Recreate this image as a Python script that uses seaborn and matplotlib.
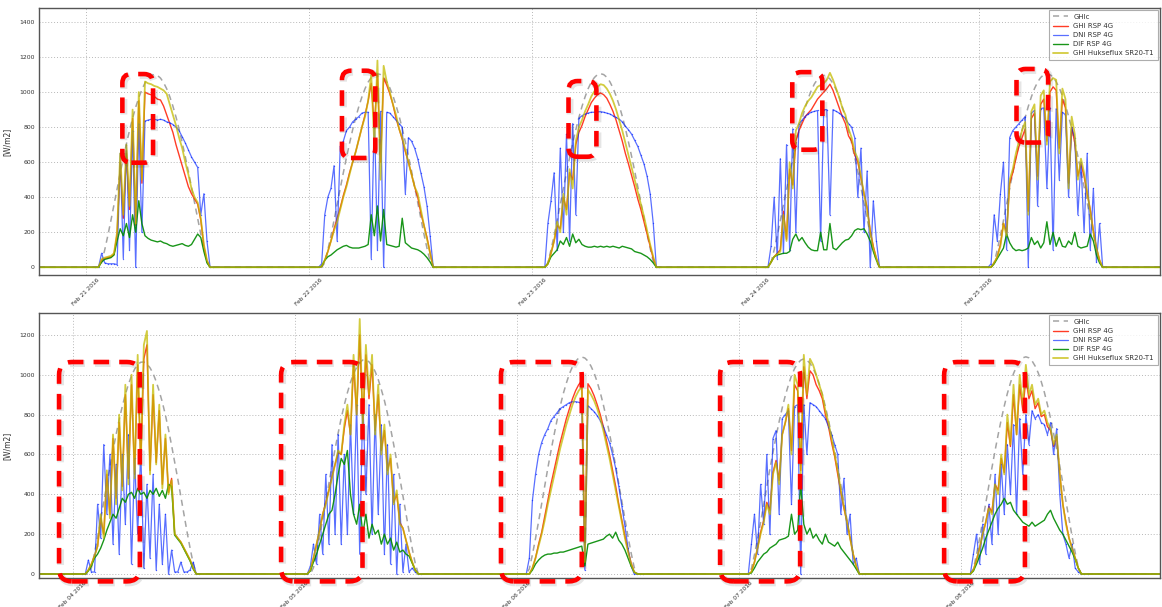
import matplotlib
matplotlib.use("Agg")
import matplotlib.pyplot as plt
import matplotlib.dates as mdates
from matplotlib.patches import FancyBboxPatch
from matplotlib.transforms import IdentityTransform
from matplotlib.lines import Line2D
import pandas as pd
import seaborn as sns

# ---------------- data ----------------
# sample times of each day (20-minute steps, UTC)
HOURS = ["01:00", "01:20", "01:40", "02:00", "02:20", "02:40", "03:00", "03:20", "03:40",
         "04:00", "04:20", "04:40", "05:00", "05:20", "05:40", "06:00", "06:20", "06:40",
         "07:00", "07:20", "07:40", "08:00", "08:20", "08:40", "09:00", "09:20", "09:40",
         "10:00", "10:20", "10:40", "11:00", "11:20", "11:40", "12:00", "12:20", "12:40",
         "13:00", "13:20", "13:40"]

SERIES = ["GHIc", "GHI RSP 4G", "DNI RSP 4G", "DIF RSP 4G", "GHI Hukseflux SR20-T1"]

# ----- top panel: 21-25 Feb 2016 -----
top_days = ["2016-02-21", "2016-02-22", "2016-02-23", "2016-02-24", "2016-02-25"]
top_span = ["2016-02-20 18:56", "2016-02-25 19:30"]

top_ghic = [
    [0, 0, 26, 99, 180, 267, 358, 448, 537, 623, 704, 781, 851, 914, 968, 1015, 1052, 1078, 1095, 1100, 1095, 1080, 1054, 1019, 974, 920, 858, 789, 712, 631, 547, 458, 367, 278, 189, 107, 33, 0, 0],
    [0, 0, 26, 100, 181, 268, 360, 450, 540, 626, 707, 785, 855, 918, 973, 1020, 1057, 1083, 1100, 1105, 1100, 1085, 1059, 1024, 979, 924, 862, 793, 715, 634, 550, 460, 369, 279, 190, 108, 33, 0, 0],
    [0, 0, 26, 100, 181, 268, 360, 450, 540, 626, 707, 785, 855, 918, 973, 1020, 1057, 1083, 1100, 1105, 1100, 1085, 1059, 1024, 979, 924, 862, 793, 715, 634, 550, 460, 369, 279, 190, 108, 33, 0, 0],
    [0, 0, 26, 99, 179, 266, 356, 446, 535, 620, 701, 777, 847, 910, 964, 1010, 1047, 1073, 1090, 1095, 1090, 1075, 1049, 1014, 970, 916, 854, 785, 709, 628, 545, 456, 365, 277, 188, 107, 33, 0, 0],
    [0, 0, 26, 100, 181, 268, 360, 450, 540, 626, 707, 785, 855, 918, 973, 1020, 1057, 1083, 1100, 1105, 1100, 1085, 1059, 1024, 979, 924, 862, 793, 715, 634, 550, 460, 369, 279, 190, 108, 33, 0, 0],
]
top_ghi_rsp = [
    [0, 0, 40, 50, 55, 60, 75, 190, 600, 280, 650, 330, 850, 240, 950, 480, 1000, 990, 985, 975, 960, 955, 920, 870, 820, 770, 700, 640, 580, 520, 460, 420, 390, 360, 270, 120, 35, 0, 0],
    [0, 5, 40, 90, 150, 220, 280, 340, 410, 470, 540, 600, 660, 730, 800, 870, 950, 1050, 800, 1100, 600, 1080, 1040, 990, 930, 850, 790, 730, 660, 600, 530, 460, 400, 310, 240, 170, 80, 0, 0],
    [0, 0, 20, 80, 150, 240, 220, 400, 330, 540, 500, 700, 770, 810, 860, 900, 940, 965, 985, 995, 985, 965, 930, 890, 840, 780, 720, 650, 590, 525, 460, 390, 330, 260, 190, 120, 50, 0, 0],
    [0, 0, 30, 60, 80, 100, 320, 160, 560, 470, 720, 780, 820, 860, 880, 900, 930, 960, 980, 1000, 1020, 1045, 1010, 960, 910, 860, 820, 750, 720, 640, 600, 510, 420, 340, 210, 120, 50, 0, 0],
    [0, 0, 25, 60, 130, 250, 200, 480, 540, 620, 690, 740, 790, 320, 850, 880, 520, 930, 960, 720, 1000, 1030, 1010, 680, 960, 910, 480, 800, 710, 520, 590, 520, 420, 330, 210, 110, 40, 0, 0],
]
top_dni = [
    [0, 0, 80, 25, 20, 20, 20, 15, 650, 50, 700, 100, 780, 0, 820, 200, 835, 840, 845, 845, 840, 845, 840, 830, 825, 815, 800, 780, 745, 710, 670, 630, 600, 570, 300, 420, 150, 0, 0],
    [0, 20, 300, 400, 450, 580, 150, 690, 720, 780, 800, 830, 845, 860, 880, 885, 885, 50, 880, 100, 890, 0, 885, 880, 860, 840, 820, 800, 420, 740, 720, 680, 620, 540, 460, 350, 180, 0, 0],
    [0, 0, 250, 380, 540, 100, 680, 200, 760, 150, 820, 300, 850, 865, 875, 880, 885, 885, 888, 888, 885, 880, 875, 865, 855, 845, 830, 805, 785, 760, 725, 690, 640, 590, 520, 420, 250, 0, 0],
    [0, 0, 120, 400, 50, 620, 80, 700, 100, 790, 200, 820, 840, 860, 875, 885, 890, 895, 150, 900, 900, 300, 900, 890, 880, 865, 850, 820, 800, 740, 400, 680, 200, 550, 0, 380, 150, 0, 0],
    [0, 20, 300, 150, 420, 600, 100, 740, 780, 800, 820, 840, 860, 0, 880, 895, 350, 905, 910, 450, 910, 100, 905, 500, 885, 870, 400, 800, 740, 300, 600, 200, 650, 100, 450, 30, 250, 0, 0],
]
top_dif = [
    [0, 0, 30, 45, 50, 55, 70, 150, 220, 180, 250, 170, 300, 200, 380, 250, 180, 165, 155, 150, 145, 150, 140, 135, 125, 120, 125, 130, 135, 125, 120, 130, 160, 190, 170, 90, 25, 0, 0],
    [0, 5, 40, 60, 70, 85, 100, 110, 120, 125, 115, 110, 110, 110, 115, 120, 130, 300, 180, 350, 150, 330, 130, 125, 120, 115, 120, 280, 140, 125, 110, 105, 100, 90, 75, 55, 30, 0, 0],
    [0, 0, 20, 60, 80, 100, 150, 130, 170, 120, 190, 140, 160, 130, 120, 115, 115, 120, 115, 120, 115, 120, 115, 120, 115, 110, 120, 115, 110, 105, 90, 85, 80, 70, 60, 45, 25, 0, 0],
    [0, 0, 30, 60, 70, 75, 80, 80, 90, 160, 190, 150, 170, 140, 115, 100, 95, 95, 200, 100, 100, 250, 110, 100, 120, 140, 155, 160, 180, 210, 220, 215, 220, 190, 150, 90, 40, 0, 0],
    [0, 0, 20, 50, 80, 110, 190, 140, 110, 95, 100, 95, 100, 110, 170, 130, 150, 110, 140, 260, 130, 200, 120, 170, 120, 115, 150, 130, 200, 120, 110, 115, 120, 190, 150, 70, 25, 0, 0],
]
top_huk = [
    [0, 0, 45, 55, 60, 65, 80, 200, 650, 300, 700, 350, 900, 250, 1000, 500, 1060, 1050, 1045, 1035, 1030, 1020, 1010, 990, 930, 870, 810, 740, 680, 600, 530, 450, 400, 370, 280, 130, 40, 0, 0],
    [0, 5, 40, 90, 150, 210, 260, 330, 400, 460, 530, 600, 660, 730, 800, 860, 950, 1100, 700, 1180, 500, 1150, 1060, 1000, 930, 870, 790, 740, 670, 600, 530, 460, 420, 330, 240, 160, 80, 0, 0],
    [0, 0, 20, 80, 150, 260, 200, 420, 300, 560, 450, 720, 800, 840, 890, 930, 975, 1005, 1030, 1045, 1040, 1020, 990, 950, 900, 840, 780, 710, 640, 570, 500, 430, 360, 290, 210, 130, 60, 0, 0],
    [0, 0, 30, 60, 75, 90, 300, 150, 600, 450, 780, 820, 880, 920, 950, 970, 1000, 1030, 1040, 1050, 1070, 1110, 1070, 1020, 970, 910, 870, 790, 740, 660, 620, 520, 420, 330, 200, 110, 50, 0, 0],
    [0, 0, 25, 60, 120, 250, 180, 500, 560, 650, 720, 780, 830, 300, 890, 930, 500, 980, 1010, 700, 1060, 1080, 1070, 650, 1020, 960, 450, 860, 760, 500, 620, 540, 430, 320, 200, 110, 40, 0, 0],
]

# ----- bottom panel: 04-08 Feb 2016 -----
bot_days = ["2016-02-04", "2016-02-05", "2016-02-06", "2016-02-07", "2016-02-08"]
bot_span = ["2016-02-03 20:20", "2016-02-08 21:30"]

bot_ghic = [
    [0, 0, 0, 32, 105, 186, 274, 362, 450, 538, 621, 700, 775, 841, 901, 952, 995, 1028, 1051, 1063, 1064, 1054, 1035, 1006, 966, 917, 862, 797, 724, 645, 562, 477, 389, 299, 212, 129, 53, 0, 0],
    [0, 0, 0, 32, 106, 188, 277, 366, 455, 543, 627, 707, 783, 849, 910, 962, 1005, 1038, 1062, 1074, 1075, 1065, 1045, 1016, 976, 926, 871, 805, 731, 651, 568, 482, 393, 302, 214, 130, 54, 0, 0],
    [0, 26, 98, 178, 264, 354, 444, 532, 617, 697, 773, 842, 905, 958, 1005, 1041, 1067, 1084, 1089, 1084, 1069, 1043, 1009, 964, 911, 849, 781, 705, 625, 542, 453, 363, 275, 187, 106, 33, 0, 0, 0],
    [0, 26, 97, 176, 261, 350, 440, 527, 611, 690, 765, 834, 896, 948, 995, 1031, 1056, 1073, 1080, 1073, 1058, 1033, 999, 954, 902, 840, 773, 698, 619, 537, 448, 359, 272, 185, 105, 33, 0, 0, 0],
    [0, 26, 98, 178, 265, 355, 445, 533, 618, 698, 774, 843, 906, 959, 1006, 1042, 1068, 1085, 1090, 1085, 1070, 1044, 1010, 965, 912, 850, 782, 706, 626, 543, 454, 364, 276, 188, 107, 33, 0, 0, 0],
]
bot_ghi_rsp = [
    [0, 0, 20, 50, 90, 140, 280, 200, 500, 300, 680, 380, 760, 440, 900, 480, 950, 500, 1050, 560, 1080, 1150, 520, 900, 560, 820, 450, 680, 410, 480, 200, 180, 160, 130, 100, 70, 30, 0, 0],
    [0, 0, 20, 80, 150, 220, 300, 360, 420, 490, 550, 610, 600, 730, 820, 700, 1050, 800, 1200, 750, 1100, 880, 1050, 720, 900, 620, 720, 520, 580, 360, 400, 260, 230, 170, 110, 60, 20, 0, 0],
    [0, 0, 30, 80, 150, 210, 290, 370, 450, 520, 590, 660, 720, 780, 830, 880, 920, 950, 970, 80, 955, 930, 895, 850, 800, 740, 670, 600, 520, 440, 350, 270, 190, 120, 55, 10, 0, 0, 0],
    [0, 10, 60, 130, 210, 270, 360, 320, 510, 570, 470, 700, 760, 830, 620, 950, 920, 520, 1040, 880, 1020, 1000, 950, 920, 880, 800, 740, 660, 590, 500, 410, 330, 260, 180, 100, 40, 0, 0, 0],
    [0, 20, 70, 130, 200, 260, 340, 310, 450, 420, 580, 510, 760, 640, 900, 700, 950, 820, 980, 880, 920, 830, 860, 790, 800, 740, 720, 640, 690, 500, 350, 260, 180, 130, 80, 30, 0, 0, 0],
]
bot_dni = [
    [0, 0, 70, 10, 10, 350, 180, 650, 300, 600, 150, 550, 100, 600, 250, 700, 50, 580, 200, 620, 30, 450, 80, 500, 20, 350, 50, 300, 0, 120, 10, 10, 60, 10, 10, 20, 60, 0, 0],
    [0, 0, 40, 150, 50, 300, 100, 500, 150, 650, 200, 700, 150, 600, 200, 750, 300, 850, 100, 880, 400, 850, 200, 800, 300, 750, 100, 650, 50, 500, 0, 350, 10, 150, 10, 30, 10, 0, 0],
    [0, 80, 370, 500, 600, 660, 700, 730, 770, 790, 810, 830, 840, 850, 860, 865, 865, 862, 855, 20, 845, 830, 815, 795, 770, 740, 700, 660, 600, 530, 440, 340, 240, 130, 40, 0, 0, 0, 0],
    [0, 150, 300, 100, 450, 250, 600, 200, 680, 720, 300, 780, 800, 820, 350, 840, 850, 0, 850, 600, 860, 850, 840, 820, 800, 780, 740, 700, 650, 600, 300, 480, 200, 300, 50, 80, 0, 0, 0],
    [0, 100, 200, 50, 250, 100, 350, 150, 500, 200, 550, 300, 650, 400, 750, 300, 780, 500, 800, 650, 820, 780, 800, 760, 750, 700, 760, 600, 730, 400, 200, 150, 80, 150, 30, 10, 0, 0, 0],
]
bot_dif = [
    [0, 0, 15, 40, 80, 100, 130, 170, 220, 260, 300, 280, 330, 380, 360, 400, 410, 380, 430, 400, 410, 380, 420, 400, 430, 390, 420, 380, 450, 440, 195, 175, 155, 125, 95, 65, 25, 0, 0],
    [0, 0, 15, 60, 100, 150, 200, 250, 300, 320, 400, 500, 580, 550, 620, 400, 300, 250, 350, 200, 300, 180, 250, 200, 220, 150, 200, 150, 180, 120, 160, 110, 120, 100, 90, 55, 20, 0, 0],
    [0, 0, 20, 50, 70, 85, 95, 100, 100, 105, 105, 110, 110, 115, 120, 125, 130, 135, 140, 40, 150, 155, 160, 165, 170, 175, 190, 200, 180, 210, 170, 150, 120, 80, 40, 10, 0, 0, 0],
    [0, 5, 30, 60, 80, 100, 110, 130, 140, 150, 170, 175, 180, 190, 300, 200, 220, 450, 250, 200, 230, 180, 200, 170, 150, 200, 160, 150, 140, 160, 130, 110, 90, 70, 50, 25, 0, 0, 0],
    [0, 15, 50, 90, 130, 180, 220, 260, 300, 330, 350, 380, 350, 360, 320, 300, 280, 260, 250, 240, 260, 240, 250, 260, 270, 300, 320, 280, 250, 220, 200, 170, 140, 110, 75, 30, 0, 0, 0],
]
bot_huk = [
    [0, 0, 20, 50, 90, 140, 300, 180, 520, 280, 700, 350, 800, 420, 950, 450, 1000, 480, 1100, 550, 1150, 1220, 500, 950, 550, 850, 430, 700, 400, 470, 200, 180, 160, 130, 100, 70, 30, 0, 0],
    [0, 0, 20, 80, 150, 220, 300, 350, 420, 480, 550, 620, 600, 750, 850, 700, 1100, 800, 1280, 750, 1150, 900, 1100, 700, 950, 600, 750, 500, 600, 350, 420, 250, 230, 170, 110, 60, 20, 0, 0],
    [0, 0, 30, 80, 140, 200, 270, 350, 420, 490, 560, 630, 690, 750, 800, 850, 890, 920, 940, 60, 925, 900, 870, 830, 780, 720, 650, 580, 500, 420, 340, 260, 180, 110, 50, 10, 0, 0, 0],
    [0, 10, 60, 130, 200, 260, 350, 300, 500, 560, 450, 700, 760, 850, 600, 1000, 950, 500, 1100, 900, 1080, 1050, 1000, 950, 900, 820, 760, 680, 600, 520, 420, 340, 260, 180, 100, 40, 0, 0, 0],
    [0, 20, 70, 130, 200, 260, 330, 300, 450, 400, 600, 500, 800, 650, 950, 700, 1000, 850, 1050, 900, 950, 850, 880, 800, 820, 760, 730, 650, 700, 500, 350, 250, 180, 130, 80, 30, 0, 0, 0],
]

# highlighted periods (red dashed boxes): start, end, low, high
top_boxes = [
    ["2016-02-21 03:54", "2016-02-21 07:12", 597, 1103],
    ["2016-02-22 03:31", "2016-02-22 07:06", 624, 1122],
    ["2016-02-23 03:53", "2016-02-23 06:53", 631, 1063],
    ["2016-02-24 03:57", "2016-02-24 07:11", 671, 1114],
    ["2016-02-25 04:04", "2016-02-25 07:28", 712, 1132],
]
bot_boxes = [
    ["2016-02-03 22:30", "2016-02-04 07:14", -37, 1064],
    ["2016-02-04 22:30", "2016-02-05 07:18", -37, 1064],
    ["2016-02-05 22:16", "2016-02-06 07:00", -37, 1064],
    ["2016-02-06 21:57", "2016-02-07 06:36", -37, 1064],
    ["2016-02-07 22:10", "2016-02-08 06:54", -37, 1064],
]

# ---------------- styling ----------------
STYLE = {
    "GHIc": dict(color="#9a9a9a", lw=1.1, ls=(0, (4, 3)), alpha=0.9),
    "GHI RSP 4G": dict(color="#ff1a00", lw=1.0, ls="-", alpha=0.85),
    "DNI RSP 4G": dict(color="#0022ff", lw=0.9, ls="-", alpha=0.65, marker=".", ms=2.0, mew=0),
    "DIF RSP 4G": dict(color="#008a00", lw=1.0, ls="-", alpha=0.9),
    "GHI Hukseflux SR20-T1": dict(color="#c4bb00", lw=1.3, ls="-", alpha=0.75),
}


def build_frame(days, span, data):
    rows = []
    for name, per_day in data.items():
        rows.append((pd.Timestamp(span[0]), name, 0.0))
        for day, vals in zip(days, per_day):
            for h, v in zip(HOURS, vals):
                rows.append((pd.Timestamp(f"{day} {h}"), name, float(v)))
        rows.append((pd.Timestamp(span[1]), name, 0.0))
    return pd.DataFrame(rows, columns=["time", "series", "value"])


top_df = build_frame(top_days, top_span, {
    "GHIc": top_ghic, "GHI RSP 4G": top_ghi_rsp, "DNI RSP 4G": top_dni,
    "DIF RSP 4G": top_dif, "GHI Hukseflux SR20-T1": top_huk})
bot_df = build_frame(bot_days, bot_span, {
    "GHIc": bot_ghic, "GHI RSP 4G": bot_ghi_rsp, "DNI RSP 4G": bot_dni,
    "DIF RSP 4G": bot_dif, "GHI Hukseflux SR20-T1": bot_huk})

sns.set_theme(style="white")
plt.rcParams["font.family"] = ["DejaVu Sans"]

W, H = 1162, 607
fig = plt.figure(figsize=(W / 100, H / 100), dpi=100)
ax_top = fig.add_axes([39 / W, 1 - 275 / H, (1160 - 39) / W, (275 - 8) / H])
ax_bot = fig.add_axes([39 / W, 1 - 578 / H, (1160 - 39) / W, (578 - 313) / H])


def draw_panel(ax, df, span, ylim, yticks):
    for name in SERIES:
        st = dict(STYLE[name])
        sub = df[df["series"] == name]
        sns.lineplot(data=sub, x="time", y="value", ax=ax, estimator=None, sort=False,
                     legend=False, color=st.pop("color"), linewidth=st.pop("lw"),
                     linestyle=st.pop("ls"), alpha=st.pop("alpha"), **st)
    ax.set_xlim(pd.Timestamp(span[0]), pd.Timestamp(span[1]))
    ax.set_ylim(*ylim)
    ax.set_yticks(yticks)
    ax.set_xlabel("")
    ax.set_ylabel("[W/m2]", fontsize=5.5, color="#333333", labelpad=6)
    ax.xaxis.set_major_locator(mdates.DayLocator())
    ax.xaxis.set_major_formatter(mdates.DateFormatter("%b %d %Y"))
    ax.grid(True, which="major", ls=(0, (1, 2)), color="#b8b8b8", lw=0.7)
    for sp in ax.spines.values():
        sp.set_color("#555555")
        sp.set_linewidth(1.0)
    ax.tick_params(axis="both", direction="in", length=3, width=0.6, color="#555555",
                   labelcolor="#333333")
    ax.tick_params(axis="y", labelsize=4.4, pad=3)
    ax.tick_params(axis="x", labelsize=4.2, pad=2)
    for lab in ax.get_xticklabels():
        lab.set_rotation(45)
        lab.set_ha("center")
    handles = []
    for name in SERIES:
        st = STYLE[name]
        handles.append(Line2D([], [], color=st["color"], lw=st["lw"], ls=st["ls"],
                              alpha=st["alpha"]))
    leg = ax.legend(handles, SERIES, loc="upper right", fontsize=5, frameon=True,
                    fancybox=False, edgecolor="#999999", handlelength=2.2,
                    labelspacing=0.45, borderaxespad=0.35, borderpad=0.5)
    leg.get_frame().set_linewidth(0.8)
    for t in leg.get_texts():
        t.set_color("#333333")


draw_panel(ax_top, top_df, top_span, (-44, 1480), [0, 200, 400, 600, 800, 1000, 1200, 1400])
draw_panel(ax_bot, bot_df, bot_span, (-20, 1310), [0, 200, 400, 600, 800, 1000, 1200])

BOX_LW = 3.3
BOX_DASH = (3.4, 2.2)
SHADOW_LW = 5.0


def add_boxes(ax, boxes, radius):
    for t0, t1, lo, hi in boxes:
        x0, y0 = ax.transData.transform((mdates.date2num(pd.Timestamp(t0)), lo))
        x1, y1 = ax.transData.transform((mdates.date2num(pd.Timestamp(t1)), hi))
        # soft shadow under the dashed outline, dashes aligned with the red ones
        scale = BOX_LW / SHADOW_LW
        shadow = FancyBboxPatch((x0 + 1.5, y0 - 1.5), x1 - x0, y1 - y0,
                                boxstyle=f"round,pad=0,rounding_size={radius}",
                                transform=IdentityTransform(), facecolor="none",
                                edgecolor="#000000", alpha=0.10, lw=SHADOW_LW,
                                ls=(0, (BOX_DASH[0] * scale, BOX_DASH[1] * scale)),
                                clip_on=False, zorder=9)
        fig.add_artist(shadow)
        patch = FancyBboxPatch((x0, y0), x1 - x0, y1 - y0,
                               boxstyle=f"round,pad=0,rounding_size={radius}",
                               transform=IdentityTransform(), facecolor="none",
                               edgecolor="#ff0000", lw=BOX_LW, ls=(0, BOX_DASH),
                               clip_on=False, zorder=10)
        fig.add_artist(patch)


add_boxes(ax_top, top_boxes, 9)
add_boxes(ax_bot, bot_boxes, 13)

fig.savefig("out.png", dpi=100, facecolor="white")
